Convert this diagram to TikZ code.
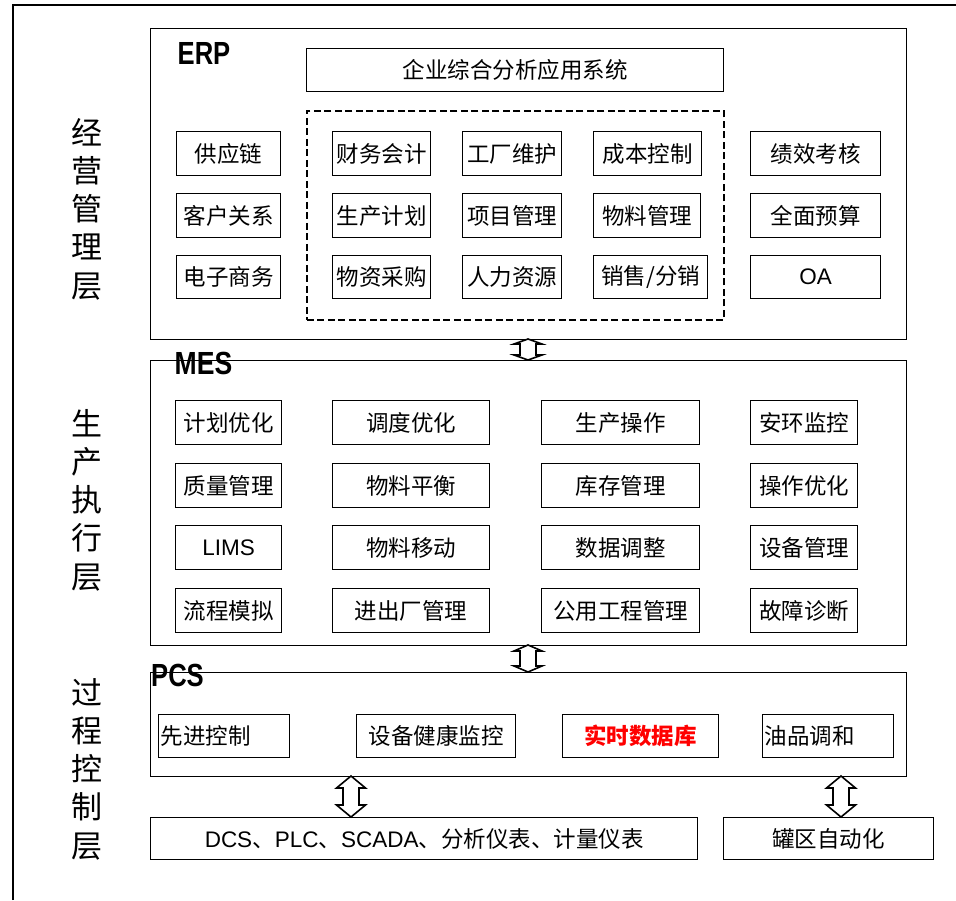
\documentclass[tikz,border=0pt]{standalone}
\usepackage{fontspec}
\setmainfont{Noto Sans CJK SC}
\newfontfamily\lat{Liberation Sans}
\tikzset{
  x=1pt, y=-1pt,
  box/.style={draw, line width=1.3pt, inner sep=0pt, anchor=north west, minimum height=44pt,
    font=\fontsize{22.5}{24}\selectfont},
  lbox/.style={box, align=left, inner xsep=2pt},
  container/.style={draw, line width=1.2pt, inner sep=0pt, anchor=north west},
  dbox/.style={draw, line width=1.5pt, dash pattern=on 7pt off 3.5pt, inner sep=0pt, anchor=north west},
  layerlabel/.style={font=\fontsize{31}{38.3}\selectfont, align=center, inner sep=0pt},
  syslabel/.style={font=\lat\bfseries\fontsize{32}{34}\selectfont, inner sep=0pt},
  harrow/.style={draw, line width=1.6pt, fill=white, line join=miter},
}
\newcommand{\hollowdbl}[6]{% x, ytop, ybot, headhalf, shafthalf, headlen
  \draw[harrow] (#1,#2) -- (#1+#4,#2+#6) -- (#1+#5,#2+#6) -- (#1+#5,#3-#6) -- (#1+#4,#3-#6)
    -- (#1,#3) -- (#1-#4,#3-#6) -- (#1-#5,#3-#6) -- (#1-#5,#2+#6) -- (#1-#4,#2+#6) -- cycle;}
\begin{document}
\begin{tikzpicture}
\useasboundingbox (0,0) rectangle (956,900);
% outer frame
\coordinate (fbl) at (13,900);
\coordinate (ftl) at (13,5);
\coordinate (ftr) at (956,5);
\draw[line width=2pt] (fbl) -- (ftl) -- (ftr);

% layer labels
\node[layerlabel] (l1) at (87,209) {经\\营\\管\\理\\层};
\node[layerlabel] (l2) at (87,500) {生\\产\\执\\行\\层};
\node[layerlabel] (l3) at (87,769) {过\\程\\控\\制\\层};

% ===== ERP =====
\node[container, minimum width=756pt, minimum height=311pt] (erp) at (150,28) {};
\node[syslabel] (erplab) at (204,53.5) {\scalebox{0.8}[1]{ERP}};
\node[box, minimum width=417pt, minimum height=43pt] (sys) at (306,48) {企业综合分析应用系统};
\node[dbox, minimum width=417pt, minimum height=209pt] (core) at (306,110) {};

\node[box, minimum width=104pt] (gyl) at (176,131) {供应链};
\node[box, minimum width=104pt] (khgx) at (176,193) {客户关系};
\node[box, minimum width=104pt, minimum height=43pt] (dzsw) at (176,255) {电子商务};

\node[box, minimum width=98pt] (cwkj) at (332,131) {财务会计};
\node[box, minimum width=99pt] (gcwh) at (462,131) {工厂维护};
\node[box, minimum width=108pt] (cbkz) at (593,131) {成本控制};
\node[box, minimum width=98pt] (scjh) at (332,193) {生产计划};
\node[box, minimum width=99pt] (xmgl) at (462,193) {项目管理};
\node[box, minimum width=107pt] (wlgl) at (593,193) {物料管理};
\node[box, minimum width=98pt, minimum height=43pt] (wzcg) at (332,255) {物资采购};
\node[box, minimum width=99pt, minimum height=43pt] (rlzy) at (462,255) {人力资源};
\node[box, minimum width=114pt, minimum height=43pt] (xsfx) at (593,255) {销售/分销};

\node[box, minimum width=130pt] (jxkh) at (750,131) {绩效考核};
\node[box, minimum width=130pt] (qmys) at (750,193) {全面预算};
\node[box, minimum width=130pt, minimum height=43pt] (oa) at (750,255) {\lat OA};

% ===== MES =====
\node[container, minimum width=756pt, minimum height=285pt] (mes) at (150,360) {};
\node[syslabel] (meslab) at (203.5,363.5) {\scalebox{0.83}[1]{MES}};

\node[box, minimum width=106pt] (jhyh) at (175,400) {计划优化};
\node[box, minimum width=106pt] (zlgl) at (175,463) {质量管理};
\node[box, minimum width=106pt] (lims) at (175,525) {\lat LIMS};
\node[box, minimum width=106pt] (lcmn) at (175,588) {流程模拟};

\node[box, minimum width=157pt] (ddyh) at (332,400) {调度优化};
\node[box, minimum width=157pt] (wlph) at (332,463) {物料平衡};
\node[box, minimum width=157pt] (wlyd) at (332,525) {物料移动};
\node[box, minimum width=157pt] (jcc) at (332,588) {进出厂管理};

\node[box, minimum width=158pt] (sccz) at (541,400) {生产操作};
\node[box, minimum width=158pt] (kcgl) at (541,463) {库存管理};
\node[box, minimum width=158pt] (sjtz) at (541,525) {数据调整};
\node[box, minimum width=158pt] (gygc) at (541,588) {公用工程管理};

\node[box, minimum width=107pt] (hjjk) at (750,400) {安环监控};
\node[box, minimum width=107pt] (czyh) at (750,463) {操作优化};
\node[box, minimum width=107pt] (sbgl) at (750,525) {设备管理};
\node[box, minimum width=107pt] (gzzd) at (750,588) {故障诊断};

% ===== PCS =====
\node[container, minimum width=756pt, minimum height=104pt] (pcs) at (150,672) {};
\node[syslabel] (pcslab) at (177.5,675) {\scalebox{0.8}[1]{PCS}};

\node[lbox, text width=127pt, minimum height=43pt] (xjkz) at (158,714) {先进控制};
\node[box, minimum width=159pt, minimum height=43pt] (sbjk) at (356,714) {设备健康监控};
\node[box, minimum width=156pt, minimum height=43pt, text=red, font=\bfseries\fontsize{22.5}{24}\selectfont] (ssdb) at (562,714) {实时数据库};
\node[lbox, text width=127pt, minimum height=43pt] (yptj) at (762,714) {油品调和};

% ===== field level =====
\node[box, minimum width=547pt, minimum height=42pt] (dcs) at (150,817) {{\lat DCS}、{\lat PLC}、{\lat SCADA}、分析仪表、计量仪表};
\node[box, minimum width=210pt, minimum height=42pt] (gqzd) at (723,817) {罐区自动化};

% ===== connectors (hollow double arrows) =====
\hollowdbl{528}{339}{360}{14}{8}{5}
\hollowdbl{528}{645}{672}{14}{8}{6}
\hollowdbl{351}{776}{817}{14.5}{8}{12}
\hollowdbl{841}{776}{817}{14.5}{8}{12}
\end{tikzpicture}
\end{document}
